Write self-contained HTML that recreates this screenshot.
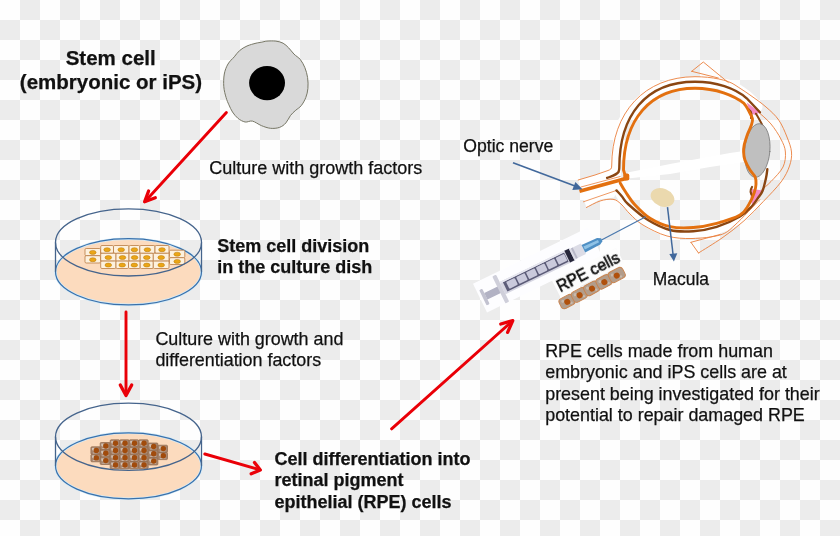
<!DOCTYPE html>
<html><head><meta charset="utf-8"><style>
html,body{margin:0;padding:0;width:840px;height:536px;overflow:hidden;background:#fefefe}
svg{display:block;filter:blur(0.4px)}
text{font-family:"Liberation Sans",sans-serif;fill:#111;stroke:#111;stroke-width:0.25px}
</style></head><body>
<svg width="840" height="536" viewBox="0 0 840 536">
<defs>
<pattern id="chk" width="40" height="40" patternUnits="userSpaceOnUse">
<rect width="40" height="40" fill="#fefefe"/>
<rect x="20" y="0" width="20" height="20" fill="#ececec"/>
<rect x="0" y="20" width="20" height="20" fill="#ececec"/>
</pattern>
</defs>
<rect width="840" height="536" fill="url(#chk)"/>

<!-- stem cell -->
<path d="M266.9,41.1 C269.3,40.9 273.2,40.8 275.9,41.1 C278.6,41.5 281.0,42.1 283.1,43.2 C285.2,44.3 286.8,46.0 288.6,47.8 C290.4,49.6 292.1,52.1 294.0,54.1 C295.9,56.1 298.5,57.2 300.3,59.5 C302.1,61.8 303.7,64.7 304.9,67.7 C306.1,70.7 307.1,74.1 307.6,77.6 C308.1,81.1 308.2,85.2 307.9,88.5 C307.6,91.8 306.9,94.6 305.8,97.5 C304.7,100.4 302.9,103.6 301.2,105.7 C299.5,107.8 297.6,108.6 295.8,110.2 C294.0,111.8 292.0,113.5 290.4,115.6 C288.8,117.7 287.7,120.9 285.9,122.9 C284.1,124.9 282.1,126.5 279.5,127.4 C276.9,128.3 273.5,128.6 270.5,128.3 C267.5,128.0 264.4,126.8 261.4,125.6 C258.4,124.4 255.1,121.7 252.4,121.1 C249.7,120.5 247.5,122.5 245.1,122.0 C242.7,121.5 240.0,120.0 237.9,118.3 C235.8,116.6 234.0,114.2 232.5,112.0 C231.0,109.8 230.0,107.2 228.9,104.8 C227.8,102.4 226.9,100.5 226.1,97.5 C225.2,94.5 224.1,90.6 223.8,86.7 C223.5,82.8 223.6,77.8 224.3,74.0 C225.0,70.2 226.3,66.9 228.0,64.0 C229.7,61.1 232.4,59.0 234.3,56.8 C236.2,54.5 237.6,52.3 239.7,50.5 C241.8,48.7 244.3,47.2 247.0,46.0 C249.7,44.8 253.6,43.8 256.0,43.2 C258.4,42.6 259.6,42.6 261.4,42.3 C263.2,41.9 264.5,41.3 266.9,41.1 Z" fill="#d9d9d9" stroke="#777766" stroke-width="1"/>
<ellipse cx="267.05" cy="83.05" rx="17.95" ry="17.15" fill="#000"/>

<!-- dish 1 -->
<ellipse cx="128.5" cy="271.8" rx="73" ry="33.1" fill="#fcdbbe" stroke="#d2eaf8" stroke-width="2.6"/>
<ellipse cx="128.5" cy="271.8" rx="73" ry="33.1" fill="none" stroke="#3a70aa" stroke-width="1.2"/>
<g stroke="#b97b42" stroke-width="0.8">
<rect x="85.0" y="248.5" width="15.5" height="7.2" rx="1.2" fill="#fdf1de"/>
<rect x="85.0" y="255.7" width="15.5" height="7.3" rx="1.2" fill="#fdf1de"/>
<rect x="100.7" y="245.5" width="12.8" height="7.8" rx="1.2" fill="#fdf1de"/>
<rect x="113.5" y="245.5" width="15.5" height="7.8" rx="1.2" fill="#fdf1de"/>
<rect x="129.0" y="245.5" width="10.8" height="7.8" rx="1.2" fill="#fdf1de"/>
<rect x="139.8" y="245.5" width="15.2" height="7.8" rx="1.2" fill="#fdf1de"/>
<rect x="155.0" y="245.5" width="14.0" height="7.8" rx="1.2" fill="#fdf1de"/>
<rect x="100.7" y="253.3" width="15.3" height="7.8" rx="1.2" fill="#fdf1de"/>
<rect x="116.0" y="253.3" width="13.0" height="7.8" rx="1.2" fill="#fdf1de"/>
<rect x="129.0" y="253.3" width="11.2" height="7.8" rx="1.2" fill="#fdf1de"/>
<rect x="140.2" y="253.3" width="13.1" height="7.8" rx="1.2" fill="#fdf1de"/>
<rect x="153.3" y="253.3" width="15.7" height="7.8" rx="1.2" fill="#fdf1de"/>
<rect x="100.7" y="261.1" width="15.3" height="7.4" rx="1.2" fill="#fdf1de"/>
<rect x="116.0" y="261.1" width="12.5" height="7.4" rx="1.2" fill="#fdf1de"/>
<rect x="128.5" y="261.1" width="11.7" height="7.4" rx="1.2" fill="#fdf1de"/>
<rect x="140.2" y="261.1" width="13.1" height="7.4" rx="1.2" fill="#fdf1de"/>
<rect x="153.3" y="261.1" width="15.7" height="7.4" rx="1.2" fill="#fdf1de"/>
<rect x="169.5" y="250.2" width="15.3" height="7.5" rx="1.2" fill="#fdf1de"/>
<rect x="169.5" y="257.7" width="15.3" height="6.8" rx="1.2" fill="#fdf1de"/>
</g><g fill="#eba617" stroke="#b7790c" stroke-width="0.5">
<ellipse cx="92.8" cy="252.4" rx="3.3" ry="2.0"/>
<ellipse cx="92.8" cy="259.7" rx="3.3" ry="2.0"/>
<ellipse cx="107.1" cy="249.7" rx="3.3" ry="2.0"/>
<ellipse cx="121.2" cy="249.7" rx="3.3" ry="2.0"/>
<ellipse cx="134.4" cy="249.7" rx="3.3" ry="2.0"/>
<ellipse cx="147.4" cy="249.7" rx="3.3" ry="2.0"/>
<ellipse cx="162.0" cy="249.7" rx="3.3" ry="2.0"/>
<ellipse cx="108.3" cy="257.5" rx="3.3" ry="2.0"/>
<ellipse cx="122.5" cy="257.5" rx="3.3" ry="2.0"/>
<ellipse cx="134.6" cy="257.5" rx="3.3" ry="2.0"/>
<ellipse cx="146.8" cy="257.5" rx="3.3" ry="2.0"/>
<ellipse cx="161.2" cy="257.5" rx="3.3" ry="2.0"/>
<ellipse cx="108.3" cy="265.1" rx="3.3" ry="2.0"/>
<ellipse cx="122.2" cy="265.1" rx="3.3" ry="2.0"/>
<ellipse cx="134.3" cy="265.1" rx="3.3" ry="2.0"/>
<ellipse cx="146.8" cy="265.1" rx="3.3" ry="2.0"/>
<ellipse cx="161.2" cy="265.1" rx="3.3" ry="2.0"/>
<ellipse cx="177.2" cy="254.2" rx="3.3" ry="2.0"/>
<ellipse cx="177.2" cy="261.4" rx="3.3" ry="2.0"/>
</g>
<ellipse cx="128.5" cy="242.4" rx="73" ry="33.6" fill="none" stroke="#45648c" stroke-width="1.3"/>
<path d="M55.5,242.4 V271.8 M201.5,242.4 V271.8" stroke="#45648c" stroke-width="1.3"/>
<!-- dish 2 -->
<ellipse cx="128.5" cy="465.8" rx="73" ry="33" fill="#fcdbbe" stroke="#d2eaf8" stroke-width="2.6"/>
<ellipse cx="128.5" cy="465.8" rx="73" ry="33" fill="none" stroke="#3a70aa" stroke-width="1.2"/>
<g stroke="#8e6548" stroke-width="0.7">
<rect x="90.9" y="446.8" width="9.6" height="7.5" rx="1" fill="#a88670"/>
<rect x="90.9" y="454.3" width="9.6" height="7.5" rx="1" fill="#a88670"/>
<rect x="100.2" y="442.5" width="10.0" height="7.3" rx="1" fill="#a88670"/>
<rect x="100.2" y="449.8" width="10.0" height="7.3" rx="1" fill="#a88670"/>
<rect x="100.2" y="457.2" width="10.0" height="7.3" rx="1" fill="#a88670"/>
<rect x="110.2" y="439.8" width="9.5" height="7.2" rx="1" fill="#a88670"/>
<rect x="110.2" y="447.1" width="9.5" height="7.2" rx="1" fill="#a88670"/>
<rect x="110.2" y="454.3" width="9.5" height="7.2" rx="1" fill="#a88670"/>
<rect x="110.2" y="461.6" width="9.5" height="7.2" rx="1" fill="#a88670"/>
<rect x="119.7" y="439.8" width="9.5" height="7.2" rx="1" fill="#a88670"/>
<rect x="119.7" y="447.1" width="9.5" height="7.2" rx="1" fill="#a88670"/>
<rect x="119.7" y="454.3" width="9.5" height="7.2" rx="1" fill="#a88670"/>
<rect x="119.7" y="461.6" width="9.5" height="7.2" rx="1" fill="#a88670"/>
<rect x="129.2" y="439.8" width="9.5" height="7.2" rx="1" fill="#a88670"/>
<rect x="129.2" y="447.1" width="9.5" height="7.2" rx="1" fill="#a88670"/>
<rect x="129.2" y="454.3" width="9.5" height="7.2" rx="1" fill="#a88670"/>
<rect x="129.2" y="461.6" width="9.5" height="7.2" rx="1" fill="#a88670"/>
<rect x="138.7" y="439.8" width="9.5" height="7.2" rx="1" fill="#a88670"/>
<rect x="138.7" y="447.1" width="9.5" height="7.2" rx="1" fill="#a88670"/>
<rect x="138.7" y="454.3" width="9.5" height="7.2" rx="1" fill="#a88670"/>
<rect x="138.7" y="461.6" width="9.5" height="7.2" rx="1" fill="#a88670"/>
<rect x="148.2" y="443.0" width="9.7" height="7.3" rx="1" fill="#a88670"/>
<rect x="148.2" y="450.3" width="9.7" height="7.3" rx="1" fill="#a88670"/>
<rect x="148.2" y="457.7" width="9.7" height="7.3" rx="1" fill="#a88670"/>
<rect x="157.9" y="445.2" width="9.6" height="7.2" rx="1" fill="#a88670"/>
<rect x="157.9" y="452.4" width="9.6" height="7.2" rx="1" fill="#a88670"/>
</g><g fill="#d9cdc2" opacity="0.85">
<path d="M91.9,448.0 L94.5,447.8 L93.9,451.3 L92.1,450.0 Z"/>
<path d="M92.9,452.7 L98.5,452.3 L98.5,453.1 L92.9,453.4 Z"/>
<path d="M91.9,455.5 L94.5,455.3 L93.9,458.8 L92.1,457.5 Z"/>
<path d="M92.9,460.2 L98.5,459.8 L98.5,460.6 L92.9,460.9 Z"/>
<path d="M101.2,443.7 L103.8,443.5 L103.2,447.0 L101.4,445.7 Z"/>
<path d="M102.2,448.2 L108.2,447.8 L108.2,448.6 L102.2,448.9 Z"/>
<path d="M101.2,451.0 L103.8,450.8 L103.2,454.3 L101.4,453.0 Z"/>
<path d="M102.2,455.6 L108.2,455.2 L108.2,456.0 L102.2,456.3 Z"/>
<path d="M101.2,458.4 L103.8,458.2 L103.2,461.7 L101.4,460.4 Z"/>
<path d="M102.2,462.9 L108.2,462.5 L108.2,463.3 L102.2,463.6 Z"/>
<path d="M111.2,441.0 L113.8,440.8 L113.2,444.3 L111.4,443.0 Z"/>
<path d="M112.2,445.4 L117.7,445.1 L117.7,445.9 L112.2,446.2 Z"/>
<path d="M111.2,448.2 L113.8,448.1 L113.2,451.6 L111.4,450.2 Z"/>
<path d="M112.2,452.7 L117.7,452.3 L117.7,453.1 L112.2,453.4 Z"/>
<path d="M111.2,455.5 L113.8,455.3 L113.2,458.8 L111.4,457.5 Z"/>
<path d="M112.2,459.9 L117.7,459.6 L117.7,460.4 L112.2,460.7 Z"/>
<path d="M111.2,462.8 L113.8,462.6 L113.2,466.1 L111.4,464.8 Z"/>
<path d="M112.2,467.2 L117.7,466.8 L117.7,467.6 L112.2,467.9 Z"/>
<path d="M120.7,441.0 L123.3,440.8 L122.7,444.3 L120.9,443.0 Z"/>
<path d="M121.7,445.4 L127.2,445.1 L127.2,445.9 L121.7,446.2 Z"/>
<path d="M120.7,448.2 L123.3,448.1 L122.7,451.6 L120.9,450.2 Z"/>
<path d="M121.7,452.7 L127.2,452.3 L127.2,453.1 L121.7,453.4 Z"/>
<path d="M120.7,455.5 L123.3,455.3 L122.7,458.8 L120.9,457.5 Z"/>
<path d="M121.7,459.9 L127.2,459.6 L127.2,460.4 L121.7,460.7 Z"/>
<path d="M120.7,462.8 L123.3,462.6 L122.7,466.1 L120.9,464.8 Z"/>
<path d="M121.7,467.2 L127.2,466.8 L127.2,467.6 L121.7,467.9 Z"/>
<path d="M130.2,441.0 L132.8,440.8 L132.2,444.3 L130.4,443.0 Z"/>
<path d="M131.2,445.4 L136.7,445.1 L136.7,445.9 L131.2,446.2 Z"/>
<path d="M130.2,448.2 L132.8,448.1 L132.2,451.6 L130.4,450.2 Z"/>
<path d="M131.2,452.7 L136.7,452.3 L136.7,453.1 L131.2,453.4 Z"/>
<path d="M130.2,455.5 L132.8,455.3 L132.2,458.8 L130.4,457.5 Z"/>
<path d="M131.2,459.9 L136.7,459.6 L136.7,460.4 L131.2,460.7 Z"/>
<path d="M130.2,462.8 L132.8,462.6 L132.2,466.1 L130.4,464.8 Z"/>
<path d="M131.2,467.2 L136.7,466.8 L136.7,467.6 L131.2,467.9 Z"/>
<path d="M139.7,441.0 L142.3,440.8 L141.7,444.3 L139.9,443.0 Z"/>
<path d="M140.7,445.4 L146.2,445.1 L146.2,445.9 L140.7,446.2 Z"/>
<path d="M139.7,448.2 L142.3,448.1 L141.7,451.6 L139.9,450.2 Z"/>
<path d="M140.7,452.7 L146.2,452.3 L146.2,453.1 L140.7,453.4 Z"/>
<path d="M139.7,455.5 L142.3,455.3 L141.7,458.8 L139.9,457.5 Z"/>
<path d="M140.7,459.9 L146.2,459.6 L146.2,460.4 L140.7,460.7 Z"/>
<path d="M139.7,462.8 L142.3,462.6 L141.7,466.1 L139.9,464.8 Z"/>
<path d="M140.7,467.2 L146.2,466.8 L146.2,467.6 L140.7,467.9 Z"/>
<path d="M149.2,444.2 L151.8,444.0 L151.2,447.5 L149.4,446.2 Z"/>
<path d="M150.2,448.7 L155.9,448.3 L155.9,449.1 L150.2,449.4 Z"/>
<path d="M149.2,451.5 L151.8,451.3 L151.2,454.8 L149.4,453.5 Z"/>
<path d="M150.2,456.1 L155.9,455.7 L155.9,456.5 L150.2,456.8 Z"/>
<path d="M149.2,458.9 L151.8,458.7 L151.2,462.2 L149.4,460.9 Z"/>
<path d="M150.2,463.4 L155.9,463.0 L155.9,463.8 L150.2,464.1 Z"/>
<path d="M158.9,446.4 L161.5,446.2 L160.9,449.7 L159.1,448.4 Z"/>
<path d="M159.9,450.8 L165.5,450.4 L165.5,451.2 L159.9,451.5 Z"/>
<path d="M158.9,453.6 L161.5,453.4 L160.9,456.9 L159.1,455.6 Z"/>
<path d="M159.9,458.0 L165.5,457.6 L165.5,458.4 L159.9,458.7 Z"/>
</g><g fill="#a14b0c">
<circle cx="96.3" cy="450.4" r="2.7"/>
<circle cx="96.3" cy="457.9" r="2.7"/>
<circle cx="105.8" cy="446.0" r="2.7"/>
<circle cx="105.8" cy="453.3" r="2.7"/>
<circle cx="105.8" cy="460.6" r="2.7"/>
<circle cx="115.5" cy="443.2" r="2.7"/>
<circle cx="115.5" cy="450.5" r="2.7"/>
<circle cx="115.5" cy="457.7" r="2.7"/>
<circle cx="115.5" cy="465.0" r="2.7"/>
<circle cx="125.0" cy="443.2" r="2.7"/>
<circle cx="125.0" cy="450.5" r="2.7"/>
<circle cx="125.0" cy="457.7" r="2.7"/>
<circle cx="125.0" cy="465.0" r="2.7"/>
<circle cx="134.5" cy="443.2" r="2.7"/>
<circle cx="134.5" cy="450.5" r="2.7"/>
<circle cx="134.5" cy="457.7" r="2.7"/>
<circle cx="134.5" cy="465.0" r="2.7"/>
<circle cx="144.0" cy="443.2" r="2.7"/>
<circle cx="144.0" cy="450.5" r="2.7"/>
<circle cx="144.0" cy="457.7" r="2.7"/>
<circle cx="144.0" cy="465.0" r="2.7"/>
<circle cx="153.7" cy="446.5" r="2.7"/>
<circle cx="153.7" cy="453.8" r="2.7"/>
<circle cx="153.7" cy="461.1" r="2.7"/>
<circle cx="163.3" cy="448.6" r="2.7"/>
<circle cx="163.3" cy="455.8" r="2.7"/>
</g>
<ellipse cx="128.5" cy="436.8" rx="73" ry="33.6" fill="none" stroke="#45648c" stroke-width="1.3"/>
<path d="M55.5,436.8 V465.8 M201.5,436.8 V465.8" stroke="#45648c" stroke-width="1.3"/>

<g fill="none" stroke-linecap="round" stroke-linejoin="round">
<path d="M614.0,172.0 C614.6,168.3 616.2,157.7 617.5,150.0 C618.8,142.3 618.9,132.8 621.5,126.0 C624.1,119.2 627.4,115.0 633.0,109.0 C638.6,103.0 648.9,94.1 655.4,90.0 C661.9,85.9 665.6,85.8 672.2,84.5 C678.8,83.2 685.7,81.9 695.0,82.0 C704.3,82.1 719.2,82.5 728.0,85.0 C736.8,87.5 743.2,93.3 748.0,97.0 C752.8,100.7 755.5,105.3 757.0,107.0" stroke="#fff" stroke-width="11"/>
<path d="M617.0,190.0 C618.5,192.3 621.3,198.7 626.0,204.0 C630.7,209.3 638.0,217.2 645.0,222.0 C652.0,226.8 660.0,231.0 668.0,233.0 C676.0,235.0 684.3,234.7 693.0,234.0 C701.7,233.3 711.8,231.7 720.0,229.0 C728.2,226.3 736.0,222.2 742.0,218.0 C748.0,213.8 753.7,206.3 756.0,204.0" stroke="#fff" stroke-width="8"/>
<polygon points="578.2,180 595,175 610,169 612,158 621,158 621,184 614,197.5 600,199.2 586.4,207.5" fill="#fff" stroke="none"/>
<polygon points="627.6,172.5 670,164 730,153 743.8,151 743.8,162 710,167 670,174 627.6,178.5" fill="#fff" stroke="none"/>
<path d="M578.2,180 L595,175 L608,170.5 C610.5,169.5 611.7,169 611.7,166 C611.7,112 645,76.7 695,76.7 C712,76.7 728,80 735,85 C738.7,87.5 744.8,91.3 750.0,95.0 C755.2,98.7 761.2,102.8 766.0,107.0 C770.8,111.2 775.2,115.0 778.7,120.0 C782.2,125.0 784.9,131.7 787.0,137.0 C789.1,142.3 791.1,147.2 791.5,152.0 C791.9,156.8 791.2,161.0 789.5,166.0 C787.8,171.0 785.4,176.1 781.0,182.0 C776.6,187.9 769.6,194.9 763.4,201.4 C757.2,207.9 750.8,214.8 743.9,220.9 C737.0,227.0 729.6,232.7 722.0,238.0 C714.4,243.3 702.4,250.5 698.5,253.0" stroke="#ea7f3c" stroke-width="0.9"/>
<path d="M758.0,111.8 C760.2,113.8 767.2,119.4 771.0,124.0 C774.8,128.6 778.6,134.5 781.0,139.2 C783.4,143.9 785.1,147.4 785.4,152.0 C785.7,156.6 785.4,162.1 783.0,167.0 C780.6,171.9 774.6,177.7 771.0,181.5 C767.4,185.3 763.2,188.6 761.6,190.0" stroke="#ea7f3c" stroke-width="0.9"/>
<path d="M586.4,207.5 C588.7,206.4 595.6,202.4 600.0,201.0 C604.4,199.6 609.5,198.8 613.0,199.3 C616.5,199.8 618.2,201.6 621.0,204.0 C623.8,206.4 626.3,210.5 630.0,214.0 C633.7,217.5 636.8,221.3 643.0,225.0 C649.2,228.7 658.8,233.8 667.0,236.0 C675.2,238.2 683.2,238.7 692.0,238.5 C700.8,238.3 712.8,237.2 720.0,235.0 C727.2,232.8 728.4,230.9 735.0,225.0 C741.6,219.1 755.7,203.8 759.8,199.6" stroke="#ea7f3c" stroke-width="0.9"/>
<path d="M691.7,71.3 L703.3,62 L728.3,82.5 M691.7,71.3 L718.3,78" stroke="#ea7f3c" stroke-width="0.9"/>
<path d="M690.9,242.3 L698.5,253 M690.9,242.3 L720,234.5" stroke="#ea7f3c" stroke-width="0.9"/>
<path d="M581,187 L620.2,176.5 M583.4,201.8 L616.5,190.4" stroke="#ea7f3c" stroke-width="0.8"/>
<path d="M746.8,102.5 L759.9,112.3 L755.2,115 L750,113 Z" fill="#f48ac4" stroke="none"/>
<path d="M752,189 L763,190.5 L757,200 L752.5,207.5 L750.5,197 Z" fill="#f48ac4" stroke="none"/>
<path d="M607.1,177.9 C612,176 616.5,175 618.5,172 C619.3,170 619.3,170 619.3,168 C619.3,115 646,81.7 695,81.7 C716,81.7 735,88 746.7,98.3 L759.9,112.3" stroke="#8a4612" stroke-width="2.4"/>
<path d="M616.5,190.4 C617.4,191.4 620.1,194.2 622.0,196.5 C623.9,198.8 623.7,200.1 628.0,204.0 C632.3,207.9 641.0,215.7 648.0,220.0 C655.0,224.3 662.5,228.1 670.0,230.0 C677.5,231.9 685.5,231.7 693.3,231.2 C701.1,230.7 708.9,229.2 716.7,226.8 C724.5,224.4 734.1,220.0 740.0,216.5 C745.9,213.0 749.0,209.1 752.0,206.0 C755.0,202.9 756.2,200.5 758.0,198.0 C759.8,195.5 761.3,194.1 762.6,190.8 C763.9,187.5 765.2,181.6 766.0,178.0 C766.8,174.4 767.1,170.8 767.3,169.3" stroke="#8a4612" stroke-width="2.4"/>
<path d="M756.0,113.7 C757.1,115.7 760.8,121.9 762.6,125.8 C764.4,129.7 766.3,135.1 767.0,137.0" stroke="#8a4612" stroke-width="2"/>
<path d="M748,109 C752,112 752,116 751,118 M752,187 C750,190 750,194 753,196" stroke="#8a4612" stroke-width="2.2"/>
<ellipse cx="757.3" cy="150.5" rx="12.6" ry="26.9" transform="rotate(5 757.3 150.5)" fill="#bfbfbf" stroke="#7a7a7a" stroke-width="0.8"/>
<path d="M624.9,174.5 L623.5,170 C623.5,119.3 650.7,88.3 695,88.3 C716,88.3 734,95.5 744,103.4 C746.5,106.0 747.3,108.3 748.7,110.9 C750.1,113.5 752.1,116.5 752.5,119.0 C752.9,121.5 751.8,123.5 751.0,126.0 C750.2,128.5 748.6,131.0 747.5,134.2 C746.4,137.4 744.9,142.0 744.2,145.0 C743.6,148.0 743.5,149.5 743.6,152.0 C743.7,154.5 743.8,157.0 744.9,160.0 C746.0,163.0 748.3,167.2 750.0,170.0 C751.7,172.8 754.2,174.6 755.2,177.0 C756.2,179.4 756.1,181.7 756.0,184.3 C755.9,186.9 755.5,189.2 754.3,192.6 C753.1,196.0 751.1,201.1 748.7,204.8 C746.3,208.5 745.3,211.9 740.0,215.0 C734.7,218.1 724.5,221.2 716.7,223.3 C708.9,225.4 701.1,226.9 693.3,227.5 C685.5,228.1 677.2,228.2 670.0,226.7 C662.8,225.2 655.8,221.9 650.0,218.3 C644.2,214.7 639.1,209.3 635.1,205.0 C631.1,200.7 628.3,196.0 625.8,192.3 C623.3,188.6 621.1,184.6 620.2,183.0" stroke="#e3700f" stroke-width="2.9"/>
<path d="M579.5,191.2 L628.5,177.8" stroke="#e3700f" stroke-width="3.7" stroke-linecap="butt"/>
<rect x="623.3" y="173.5" width="6" height="7" rx="2" fill="#e3700f" stroke="none"/>
</g>
<ellipse cx="662.5" cy="197.5" rx="12.3" ry="8.8" transform="rotate(22 662.5 197.5)" fill="#ebd9ae"/>
<g stroke="#41689b" fill="#41689b">
<path d="M513,162.8 L575,186" stroke-width="1.7"/>
<polygon points="582.5,189.2 572.3,190 575.4,182" stroke="none"/>
<path d="M667.5,207.1 L673,254" stroke-width="1.5"/>
<polygon points="673.9,261.5 669.3,254 677.3,253.2" stroke="none"/>
<path d="M601,240.3 L645.8,216.7" stroke="#4a78ad" stroke-width="1.2" fill="none"/>
</g>
<!-- syringe -->
<g transform="translate(484.5,297) rotate(-26)">
<rect x="-4.5" y="-17" width="128" height="32" fill="#fdfdff"/>
<rect x="-1.8" y="-8.5" width="3.4" height="17" rx="1" fill="#c2c2d0"/>
<rect x="1.5" y="-3.6" width="16" height="7.2" fill="#b2b2c4"/>
<rect x="16" y="-15" width="4.2" height="30" rx="1" fill="#cfcfda"/>
<rect x="20" y="-6.8" width="78" height="13.6" fill="#d6d6e2"/>
<rect x="23" y="-5.2" width="68" height="10.4" fill="#5c5c78"/>
<g fill="#cacadc"><rect x="26" y="-4" width="9.5" height="7.6" rx="1"/><rect x="37" y="-4" width="9.5" height="7.6" rx="1"/><rect x="48" y="-4" width="9.5" height="7.6" rx="1"/><rect x="59" y="-4" width="9.5" height="7.6" rx="1"/><rect x="70" y="-4" width="9.5" height="7.6" rx="1"/><rect x="81" y="-4" width="9.5" height="7.6" rx="1"/></g>
<rect x="20" y="-6.8" width="78" height="1.6" fill="#e8e8f0"/>
<rect x="92" y="-6.5" width="5" height="13" fill="#26263a"/>
<rect x="97" y="-5.8" width="13" height="11.6" fill="#dcdce6"/><rect x="99" y="-5.8" width="2" height="11.6" fill="#b8b8c8"/>
<path d="M110,-4.2 L127,-3.6 L130.5,-1.6 L130.5,1.6 L127,3.6 L110,4.2 Z" fill="#4f8fc4"/>
<path d="M111,-2 L127,-1.6 L127,1 L111,1.4 Z" fill="#8fc2e6"/>
</g>
<!-- RPE text box -->
<g transform="translate(560.3,292.4) rotate(-27)" opacity="0.995">
<rect x="-2" y="-14.5" width="72" height="18" fill="#fdfdfd"/>
<text x="0" y="0" font-size="15.8" style="filter:blur(0.15px);fill:#000;stroke:#000;stroke-width:0.5px">RPE cells</text>
</g>
<!-- RPE strip -->
<g transform="translate(560.2,304.9) rotate(-28)">
<g fill="#b39d8b" stroke="#c9824c" stroke-width="0.9">
<rect x="0" y="-5.2" width="15" height="11" rx="3.5"/>
<rect x="14" y="-5.4" width="15" height="11.2" rx="3.5"/>
<rect x="28" y="-5.4" width="15" height="11.2" rx="3.5"/>
<rect x="42" y="-5.4" width="15" height="11.2" rx="3.5"/>
<rect x="56" y="-5.6" width="16" height="11.4" rx="3.5"/>
</g>
<g fill="#d2c6ba" opacity="0.7"><circle cx="4" cy="-2" r="1.5"/><circle cx="18" cy="-2" r="1.5"/><circle cx="32" cy="-2" r="1.5"/><circle cx="46" cy="-2" r="1.5"/><circle cx="60" cy="-2" r="1.5"/><circle cx="11" cy="3.5" r="1.2"/><circle cx="25" cy="3.5" r="1.2"/><circle cx="39" cy="3.5" r="1.2"/><circle cx="53" cy="3.5" r="1.2"/><circle cx="67" cy="3.5" r="1.2"/></g>
<g fill="#b0500c"><circle cx="7.7" cy="0.6" r="3"/><circle cx="21.7" cy="0.6" r="3"/><circle cx="35.7" cy="0.6" r="3"/><circle cx="49.7" cy="0.6" r="3"/><circle cx="63.7" cy="0.6" r="3"/></g>
</g>

<!-- texts -->
<text x="110.7" y="65.1" font-size="20.5" font-weight="bold" text-anchor="middle">Stem cell</text>
<text x="111" y="89.4" font-size="20.5" font-weight="bold" text-anchor="middle">(embryonic or iPS)</text>
<text x="209.2" y="173.7" font-size="18">Culture with growth factors</text>
<text x="217.2" y="251.6" font-size="18" font-weight="bold">Stem cell division</text>
<text x="217.2" y="273.1" font-size="18" font-weight="bold">in the culture dish</text>
<text x="155.4" y="345.2" font-size="17.9">Culture with growth and</text>
<text x="155.4" y="366.4" font-size="17.9">differentiation factors</text>
<text x="274.4" y="464.8" font-size="18" font-weight="bold">Cell differentiation into</text>
<text x="274.4" y="486.2" font-size="18" font-weight="bold">retinal pigment</text>
<text x="274.4" y="507.6" font-size="18" font-weight="bold">epithelial (RPE) cells</text>
<text x="545.2" y="357" font-size="17.9">RPE cells made from human</text>
<text x="545.2" y="378.3" font-size="17.9">embryonic and iPS cells are at</text>
<text x="545.2" y="399.8" font-size="17.9">present being investigated for their</text>
<text x="545.2" y="421" font-size="17.9">potential to repair damaged RPE</text>
<text x="463.3" y="151.6" font-size="17.6">Optic nerve</text>
<text x="652.8" y="285.4" font-size="17.45">Macula</text>

<!-- red arrows -->
<g stroke="#ea0008" fill="none" stroke-linecap="round" stroke-linejoin="round">
<g stroke-width="2.9"><path d="M226.4,112.5 L145.5,201"/><path d="M126,312 L126,394"/><path d="M204.8,454 L258.5,469.5"/><path d="M391.6,428.9 L511.5,321.8"/></g>
<g stroke-width="3.3"><path d="M148.6,191 L144.6,201.8 L155.3,197.8"/><path d="M120.3,385 L126,395.5 L131.7,385"/><path d="M254.5,462.6 L260.3,470 L251.2,473.8"/><path d="M500.8,324 L512.8,320.6 L507.6,332.4"/></g>
</g>
</svg>
</body></html>
